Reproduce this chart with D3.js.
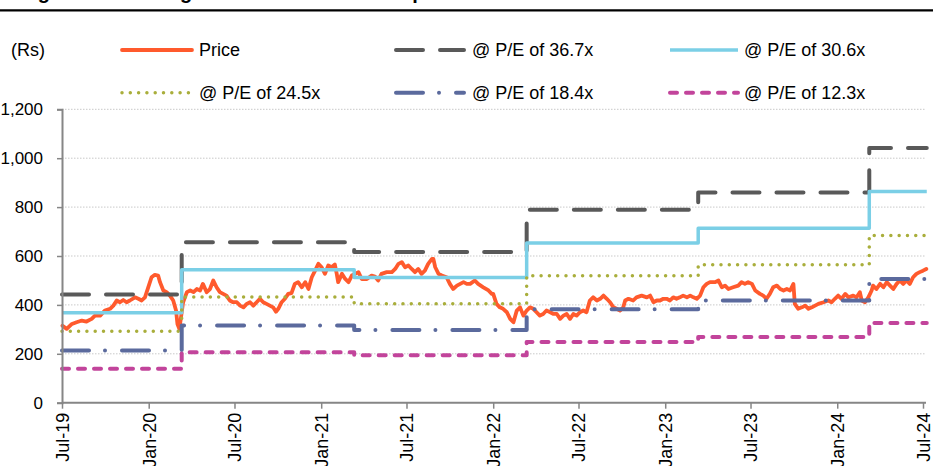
<!DOCTYPE html>
<html><head><meta charset="utf-8">
<script src="https://cdn.jsdelivr.net/npm/d3@7"></script>
<style>
html,body{margin:0;padding:0;background:#fff;}
svg{display:block;font-family:"Liberation Sans",Arial,sans-serif;}
</style></head>
<body><svg id="chart" width="933" height="466"></svg>
<script>
// ---------- data ----------
const titleText = "Figure 11: Trading within the P/E band of peers";
const unitLabel = "(Rs)";
const yTicks = [0, 200, 400, 600, 800, 1000, 1200];
const xTickLabels = ["Jul-19","Jan-20","Jul-20","Jan-21","Jul-21","Jan-22","Jul-22","Jan-23","Jul-23","Jan-24","Jul-24"];
const xTickDates = ["2019-07-01","2020-01-01","2020-07-01","2021-01-01","2021-07-01","2022-01-01","2022-07-01","2023-01-01","2023-07-01","2024-01-01","2024-07-01"];

const priceDates = [
"2019-07-02","2019-07-11","2019-07-22","2019-08-01","2019-08-12","2019-08-22","2019-09-02","2019-09-09","2019-09-20","2019-09-30",
"2019-10-11","2019-10-18","2019-10-25","2019-11-01","2019-11-08","2019-11-15","2019-11-22","2019-12-03","2019-12-10","2019-12-17",
"2019-12-24","2019-12-31","2020-01-07","2020-01-14","2020-01-21","2020-01-25","2020-02-01","2020-02-08","2020-02-15","2020-02-22",
"2020-02-28","2020-03-02","2020-03-06","2020-03-10","2020-03-14","2020-03-22","2020-03-29","2020-04-05","2020-04-12","2020-04-19",
"2020-04-25","2020-05-03","2020-05-10","2020-05-17","2020-05-24","2020-05-31","2020-06-07","2020-06-14","2020-06-21","2020-06-28",
"2020-07-06","2020-07-13","2020-07-20","2020-07-27","2020-08-03","2020-08-10","2020-08-17","2020-08-24","2020-08-31","2020-09-07",
"2020-09-14","2020-09-21","2020-09-27","2020-10-02","2020-10-09","2020-10-16","2020-10-23","2020-10-30","2020-11-06","2020-11-13",
"2020-11-21","2020-11-28","2020-12-05","2020-12-12","2020-12-19","2020-12-26","2021-01-02","2021-01-09","2021-01-16","2021-01-23",
"2021-01-30","2021-02-03","2021-02-06","2021-02-14","2021-02-21","2021-02-28","2021-03-07","2021-03-14","2021-03-21","2021-03-28",
"2021-04-08","2021-04-18","2021-04-25","2021-05-02","2021-05-09","2021-05-20","2021-05-31","2021-06-07","2021-06-14","2021-06-21",
"2021-06-28","2021-07-05","2021-07-12","2021-07-19","2021-07-26","2021-08-02","2021-08-09","2021-08-16","2021-08-24","2021-08-27",
"2021-08-31","2021-09-07","2021-09-14","2021-09-24","2021-10-01","2021-10-08","2021-10-16","2021-10-23","2021-10-30","2021-11-06",
"2021-11-13","2021-11-23","2021-11-30","2021-12-11","2021-12-22","2021-12-29","2022-01-01","2022-01-08","2022-01-15","2022-01-22",
"2022-01-30","2022-02-06","2022-02-13","2022-02-20","2022-02-27","2022-03-06","2022-03-13","2022-03-20","2022-03-27","2022-04-03",
"2022-04-10","2022-04-17","2022-04-24","2022-05-02","2022-05-09","2022-05-16","2022-05-23","2022-05-30","2022-06-06","2022-06-13",
"2022-06-20","2022-06-27","2022-07-04","2022-07-11","2022-07-18","2022-07-25","2022-08-01","2022-08-09","2022-08-16","2022-08-23",
"2022-08-30","2022-09-06","2022-09-13","2022-09-20","2022-09-27","2022-10-04","2022-10-08","2022-10-15","2022-10-25","2022-11-01",
"2022-11-12","2022-11-23","2022-11-30","2022-12-07","2022-12-14","2022-12-21","2022-12-28","2023-01-04","2023-01-11","2023-01-18",
"2023-01-25","2023-02-01","2023-02-08","2023-02-16","2023-02-23","2023-03-02","2023-03-09","2023-03-16","2023-03-23","2023-03-30",
"2023-04-06","2023-04-17","2023-04-24","2023-05-01","2023-05-08","2023-05-15","2023-05-25","2023-06-05","2023-06-12","2023-06-19",
"2023-06-26","2023-07-04","2023-07-11","2023-07-21","2023-07-28","2023-08-04","2023-08-11","2023-08-18","2023-08-26","2023-09-02",
"2023-09-09","2023-09-16","2023-09-23","2023-09-30","2023-10-03","2023-10-10","2023-10-18","2023-10-25","2023-11-01","2023-11-08",
"2023-11-15","2023-11-22","2023-12-03","2023-12-13","2023-12-20","2023-12-27","2024-01-03","2024-01-10","2024-01-18","2024-01-25",
"2024-02-04","2024-02-11","2024-02-18","2024-02-22","2024-02-29","2024-03-07","2024-03-14","2024-03-17","2024-03-24","2024-04-01",
"2024-04-08","2024-04-15","2024-04-22","2024-04-29","2024-05-06","2024-05-13","2024-05-20","2024-05-27","2024-06-03","2024-06-10",
"2024-06-17","2024-06-24","2024-07-01","2024-07-08"];
const priceValues = [
315,302,322,329,336,332,343,356,356,377,
384,397,418,411,420,411,418,431,425,418,
431,472,513,523,520,493,459,452,438,418,
377,322,302,356,411,452,459,452,465,459,
486,452,465,500,472,452,445,438,418,411,
411,397,390,404,411,397,411,425,411,404,
397,390,372,384,411,425,445,448,486,493,
472,493,465,513,540,568,554,527,561,554,
565,527,493,527,506,493,520,527,534,506,
506,520,516,500,527,534,534,547,568,575,
554,561,547,534,547,527,540,568,588,588,
554,527,520,513,486,465,479,486,493,486,
486,500,486,472,459,445,445,404,390,384,
370,343,329,377,390,356,377,390,384,370,
356,363,377,370,363,363,343,356,363,343,
363,356,370,377,370,418,431,418,425,438,
425,411,390,384,377,390,418,425,418,431,
438,431,438,411,418,418,425,425,418,431,
425,431,438,431,438,431,425,438,472,486,
493,493,500,472,479,465,472,479,493,486,
493,486,459,445,438,425,445,472,479,465,
459,465,459,486,404,384,390,397,384,390,
397,404,411,418,411,425,438,425,445,431,
438,431,452,418,411,431,459,479,465,486,
472,493,479,465,486,500,486,500,486,513,
527,534,540,547];

const stepDates = ["2019-07-01","2020-03-11","2021-03-12","2022-03-13","2023-03-12","2024-03-09","2024-07-09"];
const pe367 = [443, 656, 616, 789, 860, 1042];
const pe306 = [368, 544, 512, 653, 714, 864];
const pe245 = [292, 432, 405, 519, 564, 684];
const pe184 = [214, 316, 297, 382, 418, 506];
const pe123 = [139, 206, 194, 248, 269, 326];
const seriesNames = ["Price","@ P/E of 36.7x","@ P/E of 30.6x","@ P/E of 24.5x","@ P/E of 18.4x","@ P/E of 12.3x"];

// ---------- styles ----------
const styles = [
  {color:"#FF5A2D", width:3.8, dash:null, cap:"round"},
  {color:"#595959", width:4, dash:"27,17", cap:"round"},
  {color:"#7BCFE6", width:3.5, dash:null, cap:"butt"},
  {color:"#A9AE3B", width:3.5, dash:"0,8.3", cap:"round"},
  {color:"#5B6A9D", width:4, dash:"27,16,0,17", cap:"round"},
  {color:"#C2449B", width:4, dash:"7,9", cap:"round"}
];

const svg = d3.select("#chart");
const parse = d3.timeParse("%Y-%m-%d");
const x = d3.scaleTime().domain([parse("2019-07-01"), parse("2024-07-01")]).range([62, 923]);
const y = d3.scaleLinear().domain([0, 1200]).range([402.7, 109.3]);

// title (cut at top, as in the source) and rule
svg.append("text").attr("x", 20).attr("y", -1).attr("font-size", 20).attr("font-weight", "bold")
  .attr("fill", "#000").text(titleText);
svg.append("line").attr("x1", 0).attr("x2", 933).attr("y1", 10.3).attr("y2", 10.3)
  .attr("stroke", "#000").attr("stroke-width", 2.2);

// gridlines
svg.append("g").selectAll("line").data(yTicks.filter(d => d > 0)).join("line")
  .attr("x1", 62).attr("x2", 926).attr("y1", d => y(d)).attr("y2", d => y(d))
  .attr("stroke", "#c9c9c9").attr("stroke-width", 1).attr("stroke-dasharray", "1.5,1.5");

// series
const line = d3.line().x(d => x(d.date)).y(d => y(d.v));
const stepLine = d3.line().curve(d3.curveStepAfter).x(d => x(d.date)).y(d => y(d.v));
const priceData = priceDates.map((d, i) => ({date: parse(d), v: priceValues[i]}));
const bands = [pe367, pe306, pe245, pe184, pe123];
function stepData(vals) {
  return stepDates.map((d, i) => ({date: parse(d), v: vals[Math.min(i, vals.length - 1)]}));
}
function applyStyle(sel, s) {
  sel.attr("fill", "none").attr("stroke", s.color).attr("stroke-width", s.width)
    .attr("stroke-linecap", s.cap).attr("stroke-linejoin", "round");
  if (s.dash) sel.attr("stroke-dasharray", s.dash);
  return sel;
}
applyStyle(svg.append("path").datum(priceData).attr("d", line), styles[0]);
bands.forEach((vals, i) => {
  applyStyle(svg.append("path").datum(stepData(vals)).attr("d", stepLine), styles[i + 1]);
});

// axes
const yAxis = d3.axisLeft(y).tickValues(yTicks).tickFormat(d3.format(",")).tickSize(5).tickPadding(14);
const gy = svg.append("g").attr("transform", "translate(62,0)").call(yAxis);
gy.select(".domain").attr("stroke", "#868686").attr("stroke-width", 2);
gy.selectAll(".tick line").attr("stroke", "#868686").attr("stroke-width", 1.5);
gy.selectAll("text").attr("font-size", 17).attr("fill", "#000").attr("font-family", "Liberation Sans, Arial, sans-serif");

const xAxis = d3.axisBottom(x).tickValues(xTickDates.map(parse))
  .tickFormat((d, i) => xTickLabels[i]).tickSize(6).tickSizeOuter(0);
const gx = svg.append("g").attr("transform", "translate(0,402.7)").call(xAxis);
gx.select(".domain").attr("stroke", "#868686").attr("stroke-width", 2).attr("d", "M62,0H926");
gx.selectAll(".tick line").attr("stroke", "#868686").attr("stroke-width", 1.5);
gx.selectAll("text").attr("font-size", 18).attr("fill", "#000").attr("font-family", "Liberation Sans, Arial, sans-serif")
  .attr("transform", "rotate(-90)").attr("x", -10).attr("y", 0).attr("dy", "0.35em").style("text-anchor", "end");

// legend
svg.append("text").attr("x", 11).attr("y", 50).attr("dy", "0.35em").attr("font-size", 18).text(unitLabel);
const legendPos = [
  {x1:122, x2:192, tx:199, y:50},
  {x1:396, x2:464, tx:472, y:50},
  {x1:670, x2:738, tx:744, y:50},
  {x1:122, x2:192, tx:199, y:92.7},
  {x1:396, x2:464, tx:472, y:92.7},
  {x1:670, x2:738, tx:744, y:92.7}
];
seriesNames.forEach((name, i) => {
  const p = legendPos[i];
  applyStyle(svg.append("line").attr("x1", p.x1).attr("x2", p.x2).attr("y1", p.y).attr("y2", p.y), styles[i]);
  svg.append("text").attr("x", p.tx).attr("y", p.y).attr("dy", "0.35em").attr("font-size", 18).attr("fill", "#000").text(name);
});
</script></body></html>
